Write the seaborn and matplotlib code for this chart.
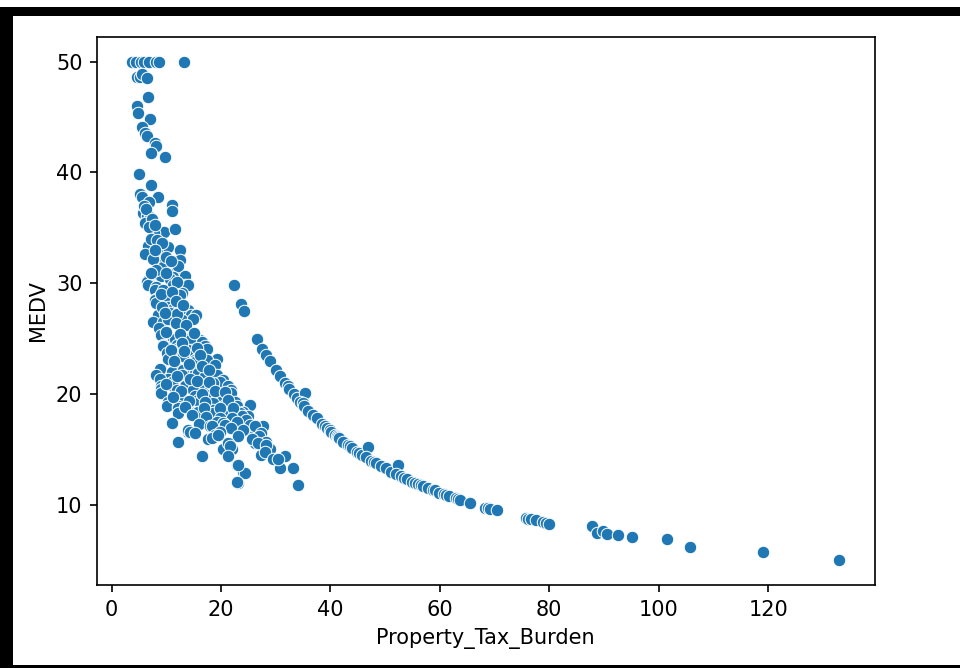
import matplotlib
matplotlib.use("Agg")
import matplotlib.pyplot as plt
from matplotlib.patches import Rectangle
import pandas as pd
import seaborn as sns

# ── data ──────────────────────────────────────────────────────────────────
# lower-tax tracts (the wide band on the left)
low_tax_burden = [
    3.8, 4.5, 5.3, 6.0, 6.9, 8.1, 8.6, 13.3,
    4.6, 5.2, 5.5, 6.4,
    6.7, 4.6, 4.9, 7.0, 5.5, 6.1, 6.4, 7.9, 8.2, 7.3, 9.7,
    5.0, 7.3, 5.2, 5.5, 8.5, 6.8, 11.0, 11.1, 5.8, 6.4, 7.0, 6.1, 9.6, 11.6, 7.7,
    6.7, 8.8, 10.3, 6.1, 12.5, 12.5, 8.6, 7.6, 9.5, 11.9, 12.2, 13.4, 6.7, 8.8, 9.1, 11.3, 10.7,
    6.4, 6.7, 8.2, 11.3, 13.4, 14.0, 7.9, 9.5, 12.8, 8.2, 10.1, 12.5, 7.9, 10.4,
    8.2, 10.4, 11.3, 13.4, 14.0, 8.5, 14.6, 11.0, 10.7, 15.5, 12.8, 7.6, 9.5, 10.4, 14.9,
    5.9, 6.3, 7.4, 6.8, 8.0, 7.2, 8.3, 9.3, 7.9, 9.9, 10.8, 8.2, 10.0, 7.3, 12.0,
    9.0, 11.0, 11.8, 9.3, 12.0, 13.0, 9.8, 11.7, 13.6, 8.6,
    9.1, 11.3, 14.0, 16.1, 11.6, 14.3, 16.5,
    9.5, 11.9, 17.1, 14.6, 9.5, 11.9, 14.0, 17.4,
    10.1, 11.9, 19.2, 17.7, 15.2, 10.4, 13.1, 15.2, 17.4, 18.9,
    9.1, 12.2, 14.9, 8.8, 11.0, 13.1, 15.8, 18.3,
    8.2, 10.4, 12.8, 17.1, 19.2, 20.4, 8.8, 11.0, 13.7, 16.8, 19.8,
    9.1, 11.3, 13.4, 16.1, 18.6, 21.3, 9.1, 11.9, 14.9, 18.0, 21.9,
    9.1, 12.5, 15.2, 18.0, 20.1, 21.9, 10.4, 12.8, 15.8, 19.5, 22.5,
    10.1, 12.2, 15.8, 18.6, 20.7, 22.9, 25.3, 12.2, 15.5, 18.6, 21.0, 24.1,
    12.2, 15.8, 18.6, 21.3, 23.5, 25.0, 23.8,
    10.0, 12.6, 15.0, 12.9, 15.7, 10.8, 13.2, 16.2, 11.5, 14.2, 16.5, 17.9,
    12.0, 14.3, 15.6, 17.8, 10.0, 12.7, 16.5, 19.0, 20.8, 11.2, 14.1, 17.1,
    21.2, 13.5, 16.9, 19.8, 22.2, 14.8, 17.3, 19.9, 22.0, 24.5, 16.0, 19.2,
    11.0, 14.0, 18.0, 20.4, 22.5, 25.9, 27.7, 14.0, 18.3, 20.7, 22.9, 25.3, 26.2, 27.4, 14.3,
    21.8, 24.1, 15.2, 19.9, 23.2, 20.4, 22.0, 27.0, 29.0, 27.3,
    12.2, 17.7, 18.9, 21.3, 26.2, 28.3, 18.3, 19.5, 21.6, 25.6, 26.8, 28.3, 28.0,
    16.5, 21.3, 22.9, 24.1, 29.6, 30.8, 33.2, 31.7, 30.5, 24.4, 23.2,
    23.2, 22.9, 34.1,
]
low_tax_medv = [
    50, 50, 50, 50, 50, 50, 50, 50,
    48.6, 48.6, 48.9, 48.5,
    46.8, 46.0, 45.4, 44.8, 44.1, 43.6, 43.3, 42.7, 42.4, 41.8, 41.4,
    39.9, 38.9, 38.1, 37.8, 37.8, 37.3, 37.1, 36.5, 36.3, 36.1, 36.0, 35.4, 34.6, 34.9, 34.5,
    33.4, 32.8, 33.3, 32.6, 33.0, 32.1, 31.9, 32.2, 31.5, 31.4, 31.6, 30.7, 30.3, 30.7, 30.7, 30.6, 30.4,
    30.1, 29.8, 29.7, 29.8, 29.8, 29.8, 29.4, 29.4, 29.1, 28.6, 28.6, 28.9, 28.5, 28.5,
    28.2, 27.9, 27.7, 27.4, 27.6, 27.1, 27.1, 27.0, 27.3, 27.1, 26.7, 26.5, 26.5, 26.8, 26.8,
    37.0, 36.7, 35.8, 35.1, 35.3, 34.0, 33.9, 33.6, 33.0, 32.4, 32.0, 31.2, 30.9, 30.9, 30.1,
    29.0, 29.2, 28.4, 27.9, 27.2, 28.0, 27.3, 26.4, 26.2, 26.0,
    25.3, 25.0, 25.0, 24.9, 25.0, 24.9, 24.7,
    24.4, 24.4, 24.3, 24.0, 24.3, 24.1, 24.0, 24.1,
    23.7, 23.8, 23.2, 22.9, 23.1, 23.2, 23.4, 22.9, 23.1, 22.6,
    22.3, 22.3, 22.2, 22.3, 22.0, 22.2, 21.9, 21.7,
    21.7, 21.4, 21.7, 21.6, 21.7, 21.3, 21.4, 21.1, 20.8, 20.8, 21.1,
    20.7, 20.7, 20.7, 20.8, 21.0, 20.7, 20.5, 20.4, 20.4, 20.4, 20.4,
    20.1, 19.8, 19.8, 19.9, 19.8, 20.1, 19.3, 19.5, 19.5, 19.8, 19.3,
    18.9, 18.9, 19.2, 19.2, 19.0, 18.9, 19.0, 18.7, 18.4, 18.6, 18.4, 18.4,
    18.3, 18.4, 18.3, 18.3, 18.3, 18.0, 18.0,
    25.6, 25.4, 25.5, 24.6, 24.2, 24.0, 23.9, 23.5, 23.0, 22.7, 22.5, 22.2,
    21.6, 21.4, 21.2, 21.1, 20.9, 20.3, 20.0, 20.3, 20.2, 19.7, 19.4, 19.3,
    19.5, 18.8, 18.7, 18.7, 18.7, 18.1, 17.9, 17.8, 17.8, 17.7, 17.3, 17.5,
    17.4, 16.6, 17.1, 17.4, 16.9, 16.6, 17.1, 16.8, 17.1, 17.2, 17.5, 17.2, 17.1, 16.5, 16.6,
    16.9, 16.8, 16.5, 16.6, 16.2, 15.0, 15.0, 16.2, 15.0, 14.5,
    15.7, 15.9, 16.3, 15.6, 15.6, 15.7, 16.0, 16.3, 15.3, 15.9, 15.6, 15.4, 14.8,
    14.4, 14.4, 13.6, 13.0, 14.1, 13.3, 13.3, 14.4, 14.1, 12.9, 13.6,
    12.0, 12.1, 11.8,
]

# high-tax tracts (the thin curve on the right)
high_tax_burden = [
    22.3, 23.6, 24.2, 26.5, 27.5, 28.3, 29.0, 30.0, 30.8, 31.7,
    32.3, 32.5, 33.3, 33.9, 35.4, 34.5, 35.0, 35.2, 36.0, 36.8,
    37.5, 38.5, 39.0, 39.4, 39.9, 40.1, 40.8, 41.2, 41.4, 41.6,
    42.3, 43.2, 43.6, 44.0, 44.9, 45.3, 45.8, 46.8, 46.6, 47.5,
    48.0, 48.4, 49.3, 50.2, 51.1, 52.3, 52.0, 53.0, 53.5, 54.0,
    55.0, 55.4, 56.0, 56.5, 57.0, 57.9, 58.8, 59.1, 59.8, 60.8,
    61.2, 61.6, 62.9, 63.4, 63.7, 65.5, 68.3, 68.8, 69.2, 70.4,
    75.7, 76.2, 76.6, 77.6, 78.8, 79.5, 80.0, 87.8, 88.8, 89.9,
    90.5, 92.6, 95.1, 101.5, 105.7, 119.0, 133.0,
]
high_tax_medv = [
    29.8, 28.1, 27.5, 25.0, 24.1, 23.5, 23.0, 22.2, 21.6, 21.0,
    20.7, 20.5, 20.0, 19.6, 20.1, 19.3, 19.2, 18.9, 18.5, 18.1,
    17.8, 17.3, 17.1, 16.9, 16.8, 16.6, 16.3, 16.2, 16.1, 16.0,
    15.7, 15.4, 15.3, 15.1, 14.8, 14.7, 14.5, 15.2, 14.3, 14.0,
    13.9, 13.8, 13.5, 13.3, 13.0, 13.6, 12.8, 12.6, 12.4, 12.3,
    12.1, 12.0, 11.9, 11.8, 11.7, 11.5, 11.3, 11.3, 11.1, 10.95,
    10.9, 10.8, 10.6, 10.5, 10.45, 10.2, 9.75, 9.7, 9.6, 9.5,
    8.8, 8.75, 8.7, 8.6, 8.45, 8.4, 8.3, 8.1, 7.5, 7.6,
    7.4, 7.3, 7.1, 6.9, 6.2, 5.7, 5.0,
]

df = pd.DataFrame({
    "Property_Tax_Burden": low_tax_burden + high_tax_burden,
    "MEDV": low_tax_medv + high_tax_medv,
})

# ── plot ──────────────────────────────────────────────────────────────────
fig = plt.figure(figsize=(6.4, 668 / 150), dpi=150)
fig.subplots_adjust(left=0.101, right=0.911, bottom=0.124, top=0.945)
ax = fig.add_subplot(111)

sns.scatterplot(data=df, x="Property_Tax_Burden", y="MEDV", ax=ax)

# black screenshot frame round the figure
W, H = 960, 668
frame = [
    (0, 7, 960, 9),     # top band
    (0, 7, 13, 661),    # left bar
    (0, 665, 960, 3),   # bottom line
]
for x0, y0, w, h in frame:
    fig.add_artist(Rectangle((x0 / W, 1 - (y0 + h) / H), w / W, h / H,
                             transform=fig.transFigure, color="black", lw=0))

fig.savefig("out.png", dpi=150)
